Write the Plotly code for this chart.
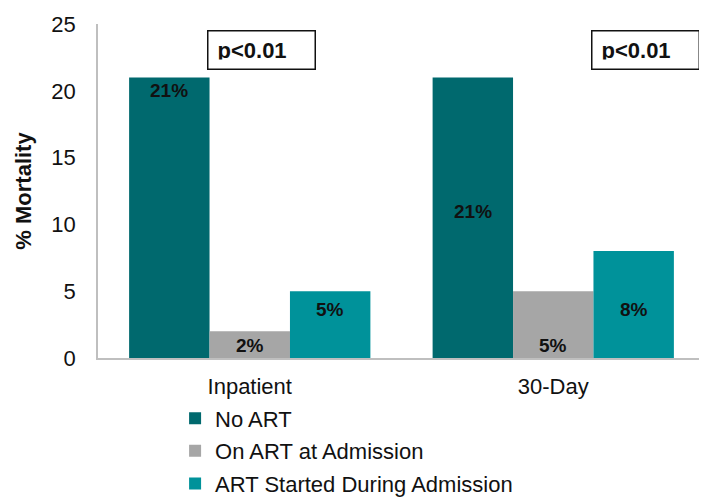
import plotly.graph_objects as go

categories = ["Inpatient", "30-Day"]
series_names = ["No ART", "On ART at Admission", "ART Started During Admission"]
no_art = [21, 21]
on_art = [2, 5]
art_started = [5, 8]
value_labels = [["21%", "21%"], ["2%", "5%"], ["5%", "8%"]]
p_labels = ["p<0.01", "p<0.01"]

colors = ["#00696E", "#A6A6A6", "#00929A"]
# label vertical placement (data units) per series/category
label_y = [[20.05, 10.95], [0.9, 0.9], [3.65, 3.65]]

FONT = "Arial, Liberation Sans, sans-serif"

fig = go.Figure()
all_values = [no_art, on_art, art_started]
for i, (name, vals) in enumerate(zip(series_names, all_values)):
    fig.add_trace(go.Bar(
        x=categories, y=vals, name=name, marker=dict(color=colors[i], line=dict(width=0)),
        legendgroup=name, offsetgroup=str(i),
    ))

annotations = []
offsets = [-1, 0, 1]
bar_w = (1 - 0.205) / 3
for i in range(3):
    for j, cat in enumerate(categories):
        annotations.append(dict(
            x=j + offsets[i] * bar_w, y=label_y[i][j], xref="x", yref="y",
            text=f"<b>{value_labels[i][j]}</b>", showarrow=False,
            font=dict(family=FONT, size=19, color="#111111"),
        ))

p_x = [0.04, 1.305]
for j, t in enumerate(p_labels):
    annotations.append(dict(
        x=p_x[j], y=23.05, xref="x", yref="y", text=f"<b>{t}</b>", showarrow=False,
        font=dict(family=FONT, size=22, color="#111111"),
        bordercolor="#111111", borderwidth=1.5, borderpad=9, bgcolor="white",
        width=88, height=19, align="left",
    ))

# the page body adds an 8px offset, so the figure is sized to fit the window
fig.update_layout(
    width=699, height=493,
    margin=dict(l=90, r=2, t=16, b=143, autoexpand=False),
    paper_bgcolor="white", plot_bgcolor="white",
    barmode="group", bargap=0.205, bargroupgap=0,
    font=dict(family=FONT, size=22, color="#111111"),
    annotations=annotations,
    showlegend=True,
    legend=dict(
        orientation="v", x=0.127, y=-0.118, xanchor="left", yanchor="top",
        font=dict(family=FONT, size=22, color="#111111"),
        tracegroupgap=1, bgcolor="rgba(0,0,0,0)",
    ),
)
fig.update_xaxes(
    showline=True, linecolor="#BFBFBF", linewidth=1.5, showgrid=False, automargin=False,
    ticks="", ticklabelstandoff=8, tickfont=dict(family=FONT, size=22, color="#111111"),
)
fig.update_yaxes(
    range=[0, 25], tickvals=[0, 5, 10, 15, 20, 25], showgrid=False, zeroline=False,
    showline=True, linecolor="#BFBFBF", linewidth=1.5, automargin=False,
    ticks="", ticklabelstandoff=16,
    tickfont=dict(family=FONT, size=22, color="#111111"),
    title=dict(text="<b>% Mortality</b>", font=dict(family=FONT, size=22, color="#111111"), standoff=14),
)

fig.write_html("out.html")
